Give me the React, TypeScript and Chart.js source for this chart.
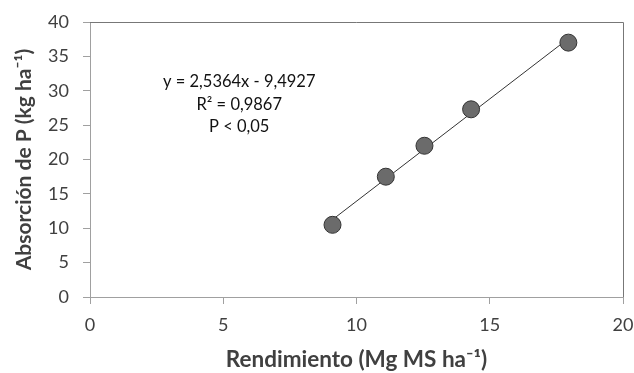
import React, { useEffect, useRef } from "react";
import { Chart, registerables } from "chart.js";

Chart.register(...registerables);

const yieldValues = [9.1, 11.1, 12.55, 14.3, 17.95];
const pUptake = [10.5, 17.5, 22.0, 27.3, 37.0];
const xTicks = [0, 5, 10, 15, 20];
const yTicks = [0, 5, 10, 15, 20, 25, 30, 35, 40];
const annotationLines = ["y = 2,5364x - 9,4927", "R² = 0,9867", "P < 0,05"];
const xTitle = "Rendimiento (Mg MS ha⁻¹)";
const yTitle = "Absorción de P (kg ha⁻¹)";

const FONT = "Lato, 'Open Sans', sans-serif";

function fitLine(xs: number[], ys: number[]) {
  const n = xs.length;
  const mx = xs.reduce((a, b) => a + b, 0) / n;
  const my = ys.reduce((a, b) => a + b, 0) / n;
  let sxy = 0, sxx = 0;
  for (let i = 0; i < n; i++) {
    sxy += (xs[i] - mx) * (ys[i] - my);
    sxx += (xs[i] - mx) ** 2;
  }
  const slope = sxy / sxx;
  const intercept = my - slope * mx;
  const x0 = Math.min(...xs);
  const x1 = Math.max(...xs);
  return [
    { x: x0, y: slope * x0 + intercept },
    { x: x1, y: slope * x1 + intercept },
  ];
}

export default function App() {
  const ref = useRef<HTMLCanvasElement | null>(null);

  useEffect(() => {
    if (!ref.current) return;
    const boxPlugin = {
      id: "boxPlugin",
      afterDatasetsDraw(chart: any) {
        const { ctx, chartArea } = chart;
        ctx.save();
        ctx.strokeStyle = "#777777";
        ctx.lineWidth = 1;
        ctx.beginPath();
        ctx.moveTo(chartArea.left, chartArea.top + 0.5);
        ctx.lineTo(chartArea.right + 0.5, chartArea.top + 0.5);
        ctx.lineTo(chartArea.right + 0.5, chartArea.bottom);
        ctx.stroke();
        const xs = chart.scales.x;
        const ys = chart.scales.y;
        const cx = xs.getPixelForValue(5.6);
        const cy = ys.getPixelForValue(31.3);
        ctx.fillStyle = "#111111";
        ctx.font = `16.5px ${FONT}`;
        ctx.textAlign = "center";
        ctx.textBaseline = "middle";
        annotationLines.forEach((t, i) => {
          ctx.fillText(t, cx, cy + i * 22.5);
        });
        ctx.restore();
      },
    };

    const chart = new Chart(ref.current, {
      type: "scatter",
      data: {
        datasets: [
          {
            label: "Datos",
            data: yieldValues.map((x, i) => ({ x, y: pUptake[i] })),
            backgroundColor: "#6b6b6b",
            borderColor: "#333333",
            borderWidth: 1,
            pointRadius: 8.5,
            order: 1,
          },
          {
            label: "Tendencia",
            data: fitLine(yieldValues, pUptake),
            showLine: true,
            borderColor: "#333333",
            borderWidth: 1,
            pointRadius: 0,
            order: 2,
          },
        ],
      },
      options: {
        responsive: false,
        animation: false,
        layout: { padding: { top: 22, right: 11, left: 0, bottom: 0 } },
        plugins: { legend: { display: false }, tooltip: { enabled: false } },
        scales: {
          x: {
            type: "linear",
            min: 0,
            max: 20,
            afterBuildTicks: (s: any) => {
              s.ticks = xTicks.map((v) => ({ value: v }));
            },
            afterFit: (s: any) => {
              s.height = 373 - 297;
              s.paddingLeft = 0;
              s.paddingRight = 0;
            },
            border: { color: "#a0a0a0", width: 1 },
            grid: { drawOnChartArea: false, drawTicks: true, tickLength: 7, color: "#a0a0a0" },
            ticks: { color: "#404040", font: { family: FONT, size: 18 }, padding: 10, maxRotation: 0 },
            title: {
              display: true,
              text: xTitle,
              color: "#404040",
              font: { family: FONT, size: 22.5, weight: "bold" },
              padding: { top: 0, bottom: 0 },
            },
          },
          y: {
            type: "linear",
            min: 0,
            max: 40,
            afterBuildTicks: (s: any) => {
              s.ticks = yTicks.map((v) => ({ value: v }));
            },
            afterFit: (s: any) => {
              s.width = 90;
              s.paddingTop = 0;
              s.paddingBottom = 0;
            },
            border: { color: "#a0a0a0", width: 1 },
            grid: { drawOnChartArea: false, drawTicks: true, tickLength: 7, color: "#a0a0a0" },
            ticks: { color: "#404040", font: { family: FONT, size: 18 }, padding: 14 },
            title: {
              display: true,
              text: yTitle,
              color: "#404040",
              font: { family: FONT, size: 21, weight: "bold" },
              padding: { top: 12, bottom: 0 },
            },
          },
        },
      },
      plugins: [boxPlugin],
    });
    return () => chart.destroy();
  }, []);

  return (
    <div style={{ position: "fixed", left: 0, top: 0, width: 634, height: 373, background: "#fff" }}>
      <canvas ref={ref} width={634} height={373} style={{ width: 634, height: 373 }} />
    </div>
  );
}
